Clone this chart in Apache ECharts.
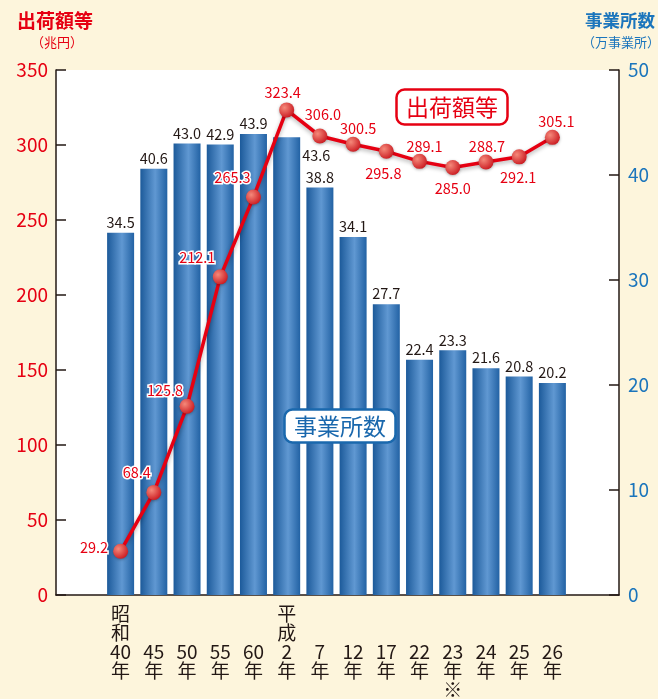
<!DOCTYPE html>
<html>
<head>
<meta charset="utf-8">
<script src="https://cdn.jsdelivr.net/npm/echarts@6/dist/echarts.min.js"></script>
<style>
html, body { margin: 0; padding: 0; background: #fdf5dc; }
#chart { width: 658px; height: 699px; }
</style>
</head>
<body>
<div id="chart"></div>
<script>
// データ
const categories = ['昭和40年', '45年', '50年', '55年', '60年', '平成2年', '7年', '12年', '17年', '22年', '23年※', '24年', '25年', '26年'];
const shipments = [29.2, 68.4, 125.8, 212.1, 265.3, 323.4, 306.0, 300.5, 295.8, 289.1, 285.0, 288.7, 292.1, 305.1]; // 出荷額等（兆円）
const offices = [34.5, 40.6, 43.0, 42.9, 43.9, 43.6, 38.8, 34.1, 27.7, 22.4, 23.3, 21.6, 20.8, 20.2]; // 事業所数（万事業所）

const RED = '#e60012';
const BLUE = '#1b75bc';
const INK = '#231815';
const FONT = '"Noto Sans CJK JP", "Noto Sans", sans-serif';

// 折れ線ラベルの置き場所（重なり回避）
const lineLabelPos = [
	['left', [0, -4]], ['top', [-17, 0]], ['top', [-22, 4]], ['top', [-23, 0]], ['top', [-21, 0]],
	['top', [-4, 2]], ['top', [3, -2]], ['top', [5, 4]], ['bottom', [-3, 2]], ['top', [5, 5]],
	['bottom', [0, 1]], ['top', [1, 4]], ['bottom', [-1, 1]], ['top', [4, 4]]
];

// 縦書き風のx軸ラベル
function catLabel(v) {
	let era = '';
	let rest = v;
	if (/^(昭和|平成)/.test(v)) {
		era = v.slice(0, 2);
		rest = v.slice(2);
	}
	let note = '';
	if (rest.endsWith('※')) {
		note = '※';
		rest = rest.slice(0, -1);
	}
	const lines = era ? [era[0], era[1]] : [' ', ' '];
	lines.push(rest.replace('年', ''), '年');
	if (note) lines.push(note);
	return lines.join('\n');
}

const chart = echarts.init(document.getElementById('chart'));

const barColor = new echarts.graphic.LinearGradient(0, 0, 1, 0, [
	{ offset: 0, color: '#1c5a9a' },
	{ offset: 0.55, color: '#6098d2' },
	{ offset: 1, color: '#2262a4' }
]);
const dotColor = new echarts.graphic.RadialGradient(0.35, 0.35, 0.75, [
	{ offset: 0, color: '#f5897a' },
	{ offset: 1, color: '#c8141c' }
]);

const option = {
	backgroundColor: '#fdf5dc',
	textStyle: { fontFamily: FONT },
	title: [
		{
			text: '出荷額等', left: 12, top: 6,
			textStyle: { color: RED, fontSize: 19, fontWeight: 'bold', fontFamily: FONT }
		},
		{
			text: '（兆円）', left: 26, top: 31,
			textStyle: { color: RED, fontSize: 13, fontWeight: 'normal', fontFamily: FONT }
		},
		{
			text: '事業所数', left: 580, top: 7,
			textStyle: { color: BLUE, fontSize: 17.5, fontWeight: 'bold', fontFamily: FONT }
		},
		{
			text: '（万事業所）', left: 577, top: 31,
			textStyle: { color: BLUE, fontSize: 13, fontWeight: 'normal', fontFamily: FONT }
		},
		{
			text: '出荷額等', left: 396, top: 89, padding: [5, 10],
			backgroundColor: '#fff', borderColor: RED, borderWidth: 2.5, borderRadius: 8,
			textStyle: { color: RED, fontSize: 23, fontWeight: 'normal', fontFamily: FONT, lineHeight: 26 }
		},
		{
			text: '事業所数', left: 284, top: 409, padding: [4, 10],
			backgroundColor: '#fff', borderColor: '#1a68ad', borderWidth: 2.5, borderRadius: 8,
			textStyle: { color: '#1a68ad', fontSize: 23, fontWeight: 'normal', fontFamily: FONT, lineHeight: 26 }
		}
	],
	grid: [
		// 白い描画エリア
		{ left: 56, right: 39, top: 70, bottom: 104, show: true, backgroundColor: '#fff', borderWidth: 0, outerBoundsMode: 'none', containLabel: false },
		// データ用
		{ left: 104, right: 89, top: 70, bottom: 104, outerBoundsMode: 'none', containLabel: false }
	],
	xAxis: [
		{
			gridIndex: 0, type: 'value', min: 0, max: 1,
			axisLine: { show: true, onZero: false, lineStyle: { color: INK, width: 1.5 } },
			axisTick: { show: false }, axisLabel: { show: false }, splitLine: { show: false }
		},
		{
			gridIndex: 1, type: 'category', data: categories,
			axisLine: { show: false }, axisTick: { show: false },
			axisLabel: {
				interval: 0, margin: 9, color: INK, fontSize: 19, lineHeight: 19,
				fontFamily: FONT, formatter: catLabel
			}
		}
	],
	yAxis: [
		{
			gridIndex: 0, type: 'value', min: 0, max: 1, show: false
		},
		{
			gridIndex: 1, type: 'value', position: 'left', offset: 48,
			min: 0, max: 350, interval: 50,
			axisLine: { show: true, lineStyle: { color: INK, width: 1.5 } },
			axisTick: { show: true, inside: true, length: 10, lineStyle: { color: INK, width: 1.5 } },
			axisLabel: { color: RED, fontSize: 19, margin: 8, fontFamily: FONT },
			splitLine: { show: false }
		},
		{
			gridIndex: 1, type: 'value', position: 'right', offset: 50,
			min: 0, max: 50, interval: 10,
			axisLine: { show: true, lineStyle: { color: INK, width: 1.5 } },
			axisTick: { show: true, inside: true, length: 10, lineStyle: { color: INK, width: 1.5 } },
			axisLabel: { color: BLUE, fontSize: 19, margin: 9, fontFamily: FONT },
			splitLine: { show: false }
		}
	],
	series: [
		{
			name: '事業所数', type: 'bar', xAxisIndex: 1, yAxisIndex: 2,
			barWidth: 27,
			itemStyle: { color: barColor },
			label: {
				show: true, position: 'top', distance: 3,
				color: INK, fontSize: 14.5, fontFamily: FONT,
				formatter: p => p.value.toFixed(1)
			},
			data: offices.map((v, i) => i === 5 ? {
				value: v,
				label: { position: ['100%', 18], align: 'left', verticalAlign: 'middle', offset: [2, 0] }
			} : v)
		},
		{
			name: '出荷額等', type: 'line', xAxisIndex: 1, yAxisIndex: 1,
			symbol: 'circle', symbolSize: 15,
			lineStyle: { color: RED, width: 3.5, shadowColor: 'rgba(0,0,0,0.3)', shadowBlur: 4, shadowOffsetY: 2 },
			itemStyle: { color: dotColor, shadowColor: 'rgba(0,0,0,0.3)', shadowBlur: 3, shadowOffsetY: 1 },
			label: {
				show: true, color: RED, fontSize: 14.5, fontFamily: FONT, distance: 5,
				textBorderColor: '#fff', textBorderWidth: 3,
				formatter: p => p.value.toFixed(1)
			},
			data: shipments.map((v, i) => ({
				value: v,
				label: { position: lineLabelPos[i][0], offset: lineLabelPos[i][1] }
			})),
			z: 3
		}
	]
};

chart.setOption(option);
</script>
</body>
</html>
